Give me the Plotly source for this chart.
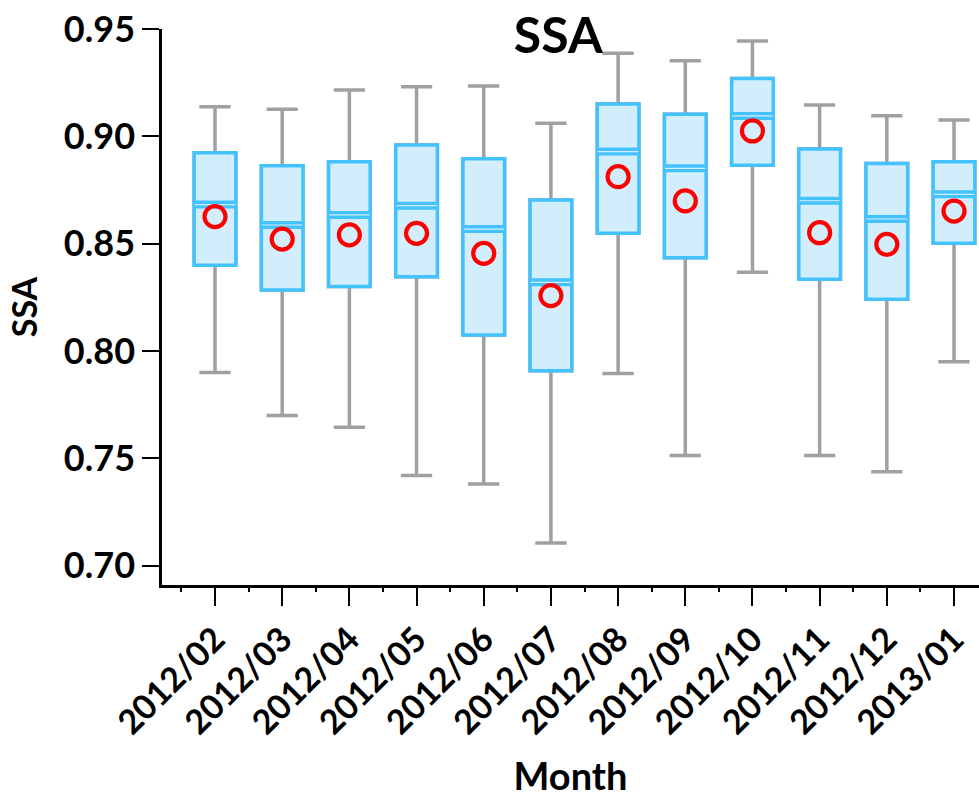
import plotly.graph_objects as go

categories = ["2012/02", "2012/03", "2012/04", "2012/05", "2012/06", "2012/07",
              "2012/08", "2012/09", "2012/10", "2012/11", "2012/12", "2013/01"]
whisker_low = [0.790, 0.770, 0.7645, 0.742, 0.738, 0.7106, 0.7895, 0.7513, 0.8367, 0.7513, 0.7437, 0.795]
q1_values = [0.840, 0.8284, 0.830, 0.8346, 0.8075, 0.7908, 0.8548, 0.8435, 0.8865, 0.8334, 0.8241, 0.8502]
median_values = [0.8682, 0.8587, 0.8634, 0.8677, 0.8568, 0.832, 0.8929, 0.8851, 0.9095, 0.870, 0.8615, 0.873]
q3_values = [0.8924, 0.8863, 0.8882, 0.896, 0.8896, 0.8704, 0.9151, 0.9103, 0.9269, 0.8941, 0.8874, 0.8882]
whisker_high = [0.9138, 0.9126, 0.9216, 0.9231, 0.9235, 0.9061, 0.9387, 0.9352, 0.9444, 0.9146, 0.9096, 0.9076]
mean_values = [0.8626, 0.8521, 0.8541, 0.8548, 0.8455, 0.8258, 0.8812, 0.8699, 0.9025, 0.8551, 0.8497, 0.8652]
y_ticks = [0.70, 0.75, 0.80, 0.85, 0.90, 0.95]

xpos = list(range(len(categories)))
FONT = "Lato"
BLUE = "#43C2FE"
FILL = "#D2EEFC"

fig = go.Figure()

# grey whiskers (box hidden beneath the blue one)
fig.add_trace(go.Box(
    x=xpos, q1=q1_values, median=median_values, q3=q3_values,
    lowerfence=whisker_low, upperfence=whisker_high,
    width=0.62, whiskerwidth=0.75,
    line=dict(color="#A0A0A0", width=3.5), fillcolor="#A0A0A0",
    boxpoints=False, hoverinfo="skip", showlegend=False,
))
# blue box
fig.add_trace(go.Box(
    x=xpos, q1=q1_values, median=median_values, q3=q3_values,
    lowerfence=q1_values, upperfence=q3_values,
    width=0.62, whiskerwidth=0,
    line=dict(color=BLUE, width=3.5), fillcolor=FILL,
    boxpoints=False, hoverinfo="skip", showlegend=False,
))
# thicker, split median band (two box borders meeting at the median)
fig.add_trace(go.Box(
    x=xpos, q1=median_values, median=median_values, q3=median_values,
    lowerfence=median_values, upperfence=median_values,
    width=0.585, whiskerwidth=0,
    line=dict(color=BLUE, width=8), fillcolor=BLUE,
    boxpoints=False, hoverinfo="skip", showlegend=False,
))
fig.add_trace(go.Box(
    x=xpos, q1=median_values, median=median_values, q3=median_values,
    lowerfence=median_values, upperfence=median_values,
    width=0.60, whiskerwidth=0,
    line=dict(color=FILL, width=1.2), fillcolor=FILL,
    boxpoints=False, hoverinfo="skip", showlegend=False,
))
# mean markers
fig.add_trace(go.Scatter(
    x=xpos, y=mean_values, mode="markers",
    marker=dict(symbol="circle-open", size=21, color="#FF0000",
                line=dict(color="#FF0000", width=4.2)),
    hoverinfo="skip", showlegend=False,
))

fig.update_layout(
    width=979, height=798,
    margin=dict(l=162, r=0, t=29, b=213),
    plot_bgcolor="white", paper_bgcolor="white",
    boxmode="overlay",
    font=dict(family=FONT, color="black"),
    title=dict(text="<b>SSA</b>", x=0.485, xref="paper", xanchor="center",
               y=1 - 35 / 798, yref="container", yanchor="middle",
               font=dict(family=FONT, size=50, color="black")),
    xaxis=dict(
        range=[-0.789, 11.372], automargin=False,
        tickmode="array", tickvals=xpos,
        ticktext=["<b>%s</b>" % c for c in categories],
        tickangle=-45, tickfont=dict(family=FONT, size=34, color="black"),
        ticks="outside", ticklen=18, tickwidth=2, tickcolor="black",
        showline=True, linewidth=2.5, linecolor="black", mirror=False,
        showgrid=False, zeroline=False,
        minor=dict(tickvals=[i - 0.5 for i in xpos], ticks="outside",
                   ticklen=4, tickwidth=1.5, tickcolor="black", showgrid=False),
        title=dict(text="<b>Month</b>", font=dict(family=FONT, size=38, color="black"),
                   standoff=40),
    ),
    yaxis=dict(
        range=[0.691, 0.95], automargin=False,
        tickmode="array", tickvals=y_ticks,
        ticktext=["<b>%.2f</b>" % v for v in y_ticks],
        tickfont=dict(family=FONT, size=36, color="black"),
        ticks="outside", ticklen=17, tickwidth=2, tickcolor="black",
        showline=True, linewidth=2.5, linecolor="black",
        showgrid=False, zeroline=False,
        title=dict(text="<b>SSA</b>", font=dict(family=FONT, size=34, color="black"),
                   standoff=16),
    ),
)

fig.write_html("out.html", config={"displayModeBar": False},
               post_script="document.body.style.margin='0px';document.body.style.overflow='hidden';")
